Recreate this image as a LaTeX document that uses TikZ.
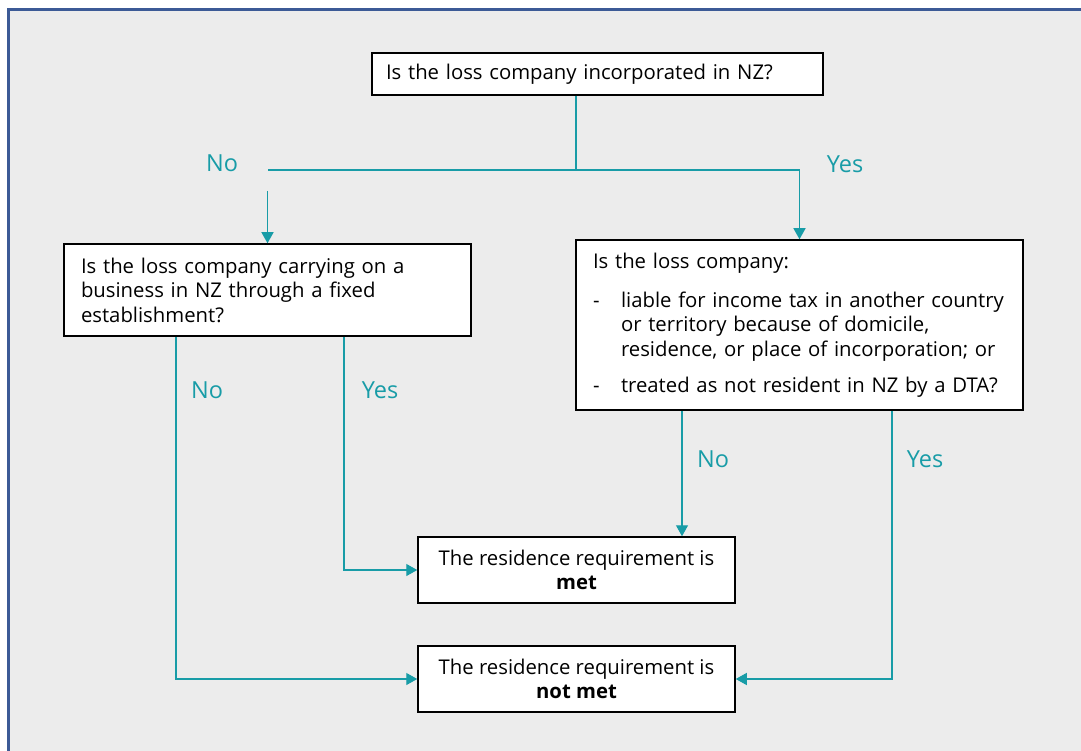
\documentclass[tikz,border=0pt]{standalone}
\usepackage{fontspec}
\setmainfont{Open Sans}
\usepackage{tikz}
\usetikzlibrary{arrows.meta, positioning}
\definecolor{tl}{RGB}{24,156,167}
\definecolor{fr}{RGB}{60,90,150}
\definecolor{bg}{RGB}{236,236,236}
\tikzstyle{line} = [draw=tl, line width=1.3pt]
\tikzstyle{arrow} = [line, -{Triangle[length=11pt,width=12pt]}]
\tikzstyle{question} = [rectangle, draw=black, line width=1.5pt, fill=white, inner xsep=17pt, align=left, font=\fontsize{20.3}{24.5}\selectfont]
\tikzstyle{result} = [rectangle, draw=black, line width=1.5pt, fill=white, minimum width=317pt, minimum height=66pt, align=center, font=\fontsize{20.3}{24.5}\selectfont]
\tikzstyle{answer} = [text=tl, font=\fontsize{23.5}{28}\selectfont]

\begin{document}
\begin{tikzpicture}[x=1pt, y=-1pt]
\useasboundingbox (0,0) rectangle (1081,751);
\begin{scope}
\clip (0,0) rectangle (1081,751);
\draw [fr, line width=2.6pt, fill=bg] (8.7,9.3) rectangle (1110,770);
\end{scope}
%----------------------------------------------------------------------------
% Placement of flowchart nodes
\node (incorp) [question, inner xsep=14pt, text width=423pt, minimum height=42pt] at (597.5,74) {Is the loss company incorporated in NZ?};

\node (business) [question, text width=373pt, minimum height=92pt] at (267.5,290) {Is the loss company carrying on a\\business in NZ through a fixed\\establishment?};

\node (dta) [question, text width=413pt, minimum height=170pt] at (799.5,325) {Is the loss company:\par\vspace{14.5pt}
\makebox[28pt][l]{-}\parbox[t]{385pt}{liable for income tax in another country\\or territory because of domicile,\\residence, or place of incorporation; or}\par\vspace{14.5pt}
\makebox[28pt][l]{-}treated as not resident in NZ by a DTA?};

\node (met) [result] at (576.5,570) {The residence requirement is\\\textbf{met}};
\node (notmet) [result] at (576.5,679) {The residence requirement is\\\textbf{not met}};

\coordinate (split) at (576,170);
\coordinate (splitLeft) at (268,170);
\coordinate (noStart) at (267.5,191);

%----------------------------------------------------------------------------
% Draw lines
\draw [line] (split |- incorp.south) -- (split);
\draw [line] (splitLeft) -- (split);
\draw [arrow] (split) -| (dta.north);
\draw [arrow] (noStart) -- (business.north);

\draw [arrow] ([xshift=-91.5pt]business.south) |- (notmet.west);
\draw [arrow] ([xshift=76.5pt]business.south) |- (met.west);

\draw [arrow] ([xshift=-117.5pt]dta.south) coordinate (dtaNo) -- (dtaNo |- met.north);
\draw [arrow] ([xshift=92.5pt]dta.south) |- (notmet.east);

%----------------------------------------------------------------------------
% Decision labels
\node (lblNoTop) [answer] at (222,163) {No};
\node (lblYesTop) [answer] at (845,164) {Yes};
\node (lblNoLeft) [answer] at (207,390) {No};
\node (lblYesLeft) [answer] at (380,390) {Yes};
\node (lblNoRight) [answer] at (713,459) {No};
\node (lblYesRight) [answer] at (925,459) {Yes};

\end{tikzpicture}
\end{document}
